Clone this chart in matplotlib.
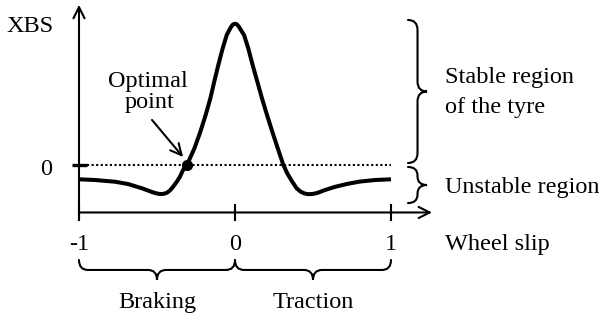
import numpy as np
import matplotlib.pyplot as plt
from matplotlib.path import Path
from matplotlib.patches import PathPatch

plt.rcParams['font.family'] = ['Liberation Serif', 'DejaVu Serif']
plt.rcParams['font.size'] = 17.5

# curve (wheel slip -> XBS, peak ~ 1)
slip = [-1.0, -0.897, -0.769, -0.686, -0.596, -0.532, -0.505, -0.481, -0.458,
        -0.436, -0.415, -0.397, -0.375, -0.353, -0.333, -0.308, -0.260,
        -0.222, -0.188, -0.158, -0.133, -0.107, -0.079, -0.053, -0.026,
        -0.013, 0.0, 0.013, 0.026, 0.058, 0.085, 0.113, 0.143, 0.173, 0.205,
        0.239, 0.274, 0.310, 0.335, 0.367, 0.395, 0.420, 0.445, 0.470, 0.495,
        0.526, 0.577, 0.640, 0.720, 0.800, 0.897, 1.0]
xbs = [-0.100, -0.105, -0.117, -0.133, -0.163, -0.189, -0.198, -0.203, -0.202,
       -0.194, -0.176, -0.152, -0.120, -0.082, -0.035, 0.0, 0.117,
       0.233, 0.350, 0.466, 0.583, 0.699, 0.816, 0.909, 0.965,
       0.983, 0.988, 0.983, 0.965, 0.909, 0.816, 0.699, 0.583, 0.466, 0.350,
       0.233, 0.117, 0.0, -0.058, -0.117, -0.163, -0.186, -0.199, -0.204, -0.203,
       -0.196, -0.175, -0.153, -0.132, -0.116, -0.105, -0.100]

ticks = [-1, 0, 1]
tick_labels = ['-1', '0', '1']
opt_slip = -0.308
regions = ['Braking', 'Traction']

LW = 1.5
arrow = dict(arrowstyle='->,head_length=0.4,head_width=0.2', lw=LW,
             color='black', mutation_scale=20, shrinkA=0, shrinkB=0)

fig = plt.figure(figsize=(6.03, 3.18), dpi=100)
ax = fig.add_axes([0, 0, 1, 1])
ax.set_xlim(-235 / 156, (603 - 235) / 156)
ax.set_ylim((165 - 318) / 143, 165 / 143)
ax.axis('off')

ax_y = -0.332
# axes with arrows
ax.annotate('', xy=(-1, 1.12), xytext=(-1, -0.385), arrowprops=arrow)
ax.annotate('', xy=(1.263, ax_y), xytext=(-1, ax_y), arrowprops=arrow)
for t, lab in zip(ticks, tick_labels):
    ax.plot([t, t], [-0.28, -0.385], color='black', lw=LW)
    ax.text(t, -0.594, lab, ha='center', va='baseline')

# zero level
ax.plot([-1.045, -0.949], [0, 0], color='black', lw=2.4, solid_capstyle='butt')
ax.plot([-0.949, 1.0], [0, 0], color='black', lw=1.5, linestyle=(0, (1, 1.2)))
ax.text(-1.212, -0.07, '0', ha='center', va='baseline')
ax.text(-1.462, 0.93, 'XBS', ha='left', va='baseline')

# curve
ax.plot(slip, xbs, color='black', lw=2.9, solid_joinstyle='round',
        solid_capstyle='butt')
ax.plot([opt_slip], [0], 'o', color='black', ms=7)
ax.text(-0.56, 0.545, 'Optimal', ha='center', va='baseline')
ax.text(-0.55, 0.399, 'point', ha='center', va='baseline')
ax.annotate('', xy=(-0.333, 0.056), xytext=(-0.532, 0.315), arrowprops=arrow)

M, C, L = Path.MOVETO, Path.CURVE3, Path.LINETO


def vbrace(x0, lo, hi, w, r):
    xm, tip, ym = x0 + w / 2, x0 + w, (lo + hi) / 2
    v = [(x0, hi), (xm, hi), (xm, hi - r), (xm, ym + r), (xm, ym), (tip, ym),
         (xm, ym), (xm, ym - r), (xm, lo + r), (xm, lo), (x0, lo)]
    c = [M, C, C, L, C, C, C, C, L, C, C]
    ax.add_patch(PathPatch(Path(v, c), fill=False, lw=LW, capstyle='round'))


def hbrace(lo, hi, y0, d, r):
    xm, yl, tip = (lo + hi) / 2, y0 - d / 2, y0 - d
    v = [(lo, y0), (lo, yl), (lo + r, yl), (xm - r, yl), (xm, yl), (xm, tip),
         (xm, yl), (xm + r, yl), (hi - r, yl), (hi, yl), (hi, y0)]
    c = [M, C, C, L, C, C, C, C, L, C, C]
    ax.add_patch(PathPatch(Path(v, c), fill=False, lw=LW, capstyle='round'))


vbrace(1.109, 0.014, 1.014, 0.122, 0.07)
vbrace(1.109, -0.266, -0.014, 0.122, 0.06)
ax.text(1.346, 0.573, 'Stable region', ha='left', va='baseline')
ax.text(1.346, 0.364, 'of the tyre', ha='left', va='baseline')
ax.text(1.346, -0.196, 'Unstable region', ha='left', va='baseline')
ax.text(1.346, -0.594, 'Wheel slip', ha='left', va='baseline')

for a, b, name in zip(ticks[:-1], ticks[1:], regions):
    hbrace(a, b, -0.664, 0.14, 0.058)
    ax.text((a + b) / 2, -1.0, name, ha='center', va='baseline')

fig.savefig('out.png', dpi=100)
